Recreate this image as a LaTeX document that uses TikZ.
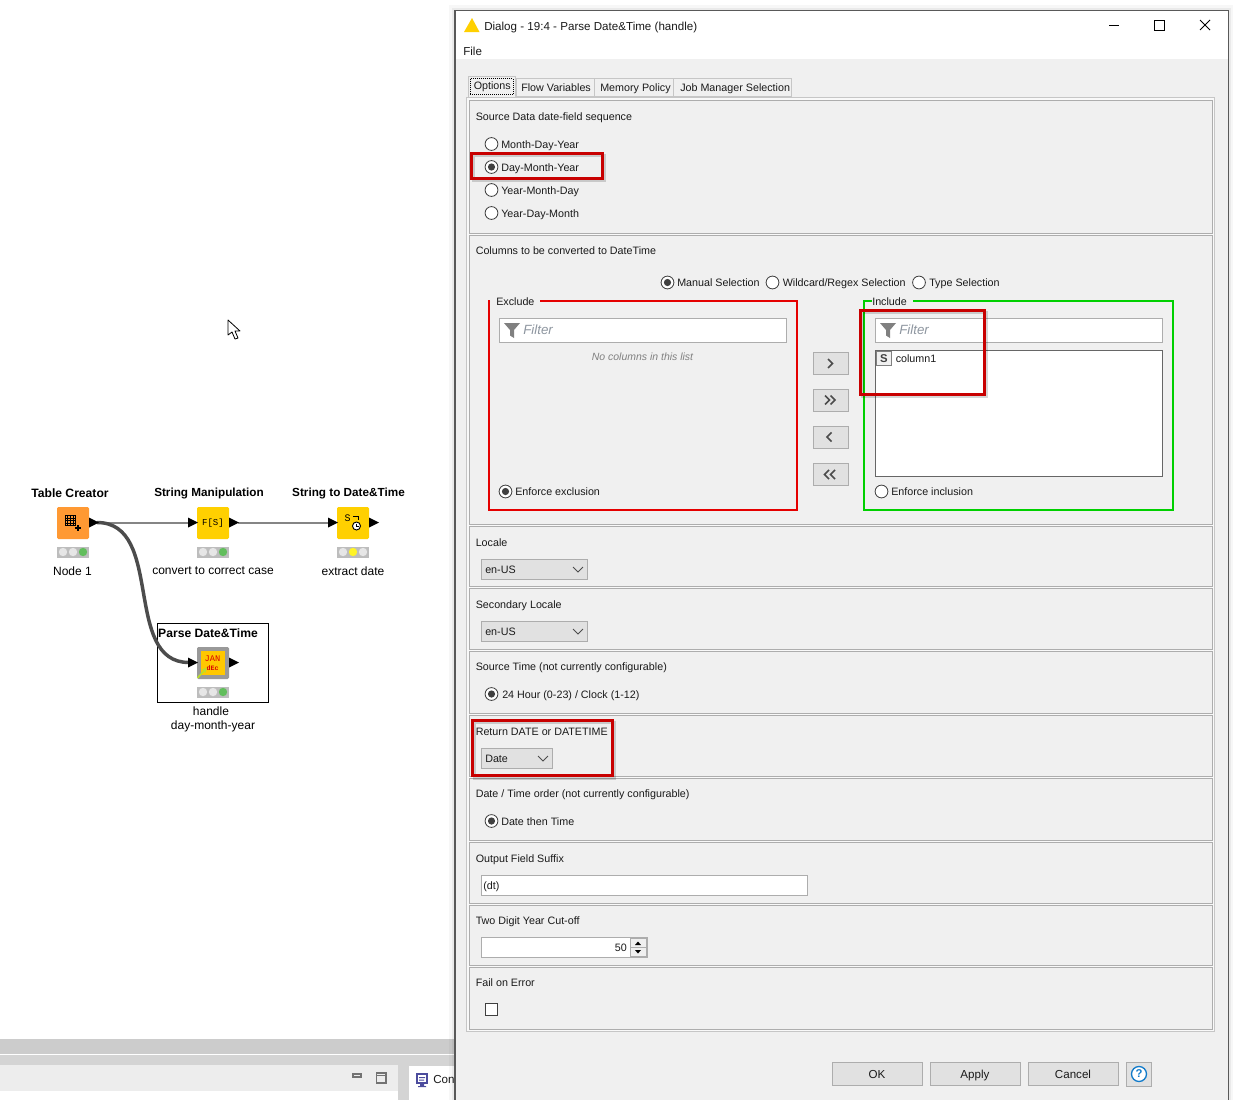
\documentclass[tikz,border=0pt]{standalone}
\usepackage{fontspec}
\setmainfont{Liberation Sans}
\newfontfamily\uifont{Liberation Sans}
\newfontfamily\pixfont{Liberation Mono}
\usetikzlibrary{arrows.meta}
\definecolor{dlgbg}{HTML}{F0F0F0}
\definecolor{panelline}{HTML}{ADADAD}
\definecolor{redmark}{HTML}{C80000}
\definecolor{gridgreen}{HTML}{00D000}
\definecolor{lampgray}{HTML}{BDBDBD}
\definecolor{lampoff}{HTML}{E6E6E6}
\definecolor{lampgreen}{HTML}{62BE5C}
\definecolor{nodeorange}{HTML}{FF9933}
\definecolor{nodeyellow}{HTML}{FFD000}
\definecolor{btnfill}{HTML}{E1E1E1}
\definecolor{txtcol}{HTML}{1A1A1A}
\definecolor{filtergray}{HTML}{8E96A0}
\newcommand\uisize{\fontsize{8.05}{10}\selectfont}
\newcommand\bigsize{\fontsize{8.7}{10}\selectfont}
\tikzset{
  x=0.75pt,y=-0.75pt,
  uitext/.style={font=\uifont\uisize,text=txtcol,inner sep=0pt,anchor=west,text height=8pt,text depth=2pt},
  bigtext/.style={uitext,font=\uifont\bigsize},
  knimetitle/.style={font=\fontsize{8.8}{11}\selectfont\bfseries,inner sep=0pt,text=black},
  knimetitlewide/.style={font=\fontsize{9.1}{11}\selectfont\bfseries,inner sep=0pt,text=black},
  knimelabel/.style={font=\fontsize{9}{11}\selectfont,inner sep=0pt,text=black,align=center},
  knode/.style={minimum width=24pt,minimum height=24pt,inner sep=0pt,rounded corners=1pt},
  lampbar/.style={fill=lampgray,draw=none,minimum width=24pt,minimum height=8.25pt,inner sep=0pt},
  portmark/.style={fill=black,draw=none},
  panelbox/.style={draw=panelline,line width=0.75pt,fill=dlgbg},
  fieldbox/.style={draw=panelline,line width=0.75pt,fill=white},
  btnbox/.style={draw=panelline,line width=0.75pt,fill=btnfill},
  radiomark/.style={draw=black!75,line width=0.6pt,fill=white},
  redmarkbox/.style={draw=redmark,line width=2.25pt},
  shadowbox/.style={draw=black,opacity=0.16,line width=2.6pt},
  chev/.style={draw=black!70,line width=1.1pt},
  wirethin/.style={draw=black!48,line width=1.5pt},
  wirethick/.style={draw=black!70,line width=2.6pt},
  filtertext/.style={font=\uifont\fontsize{10}{12}\selectfont\itshape,text=filtergray,inner sep=0pt,anchor=west},
  bottombtn/.style={btnbox,minimum width=67.5pt,minimum height=17pt,inner sep=0pt,font=\uifont\bigsize,text=txtcol,text height=8pt,text depth=2pt},
}
\newcommand\dlgtext[4]{\node[uitext] (#1) at (#2,#3) {#4};}
\newcommand\dlgpanel[2]{\draw[panelbox] (469,#1) rectangle (1212,#2);}
\newcommand\radiobtn[3]{\draw[radiomark] (#1,#2) circle (6.4); \ifnum#3=1 \fill[black!75] (#1,#2) circle (3.6);\fi}
\begin{document}
\begin{tikzpicture}
\useasboundingbox (0,0) rectangle (1233,1100);
\fill[white] (0,0) rectangle (1233,1100);

%% ---------- workbench strip at the bottom
\fill[black!20] (0,1039) rectangle (455,1054);
\fill[black!17] (0,1055) rectangle (455,1100);
\fill[black!7] (0,1065) rectangle (398,1091);
\fill[white] (0,1091) rectangle (398,1100);
\fill[white] (409,1066) rectangle (455,1100);
\draw[black!55,line width=0.8pt] (353,1074) rectangle (361,1077);
\draw[black!55,line width=0.8pt] (376.5,1073) rectangle (386,1083);
\draw[black!55,line width=0.8pt] (376.5,1075.5) -- (386,1075.5);
\fill[blue!45!black!70!white] (416,1073) rectangle (428,1084);
\fill[white] (418,1075) rectangle (426,1082);
\fill[blue!45!black!70!white] (419,1077) rectangle (425,1078) (419,1079.5) rectangle (424,1080.5) (420,1084) rectangle (424,1086) (418,1086) rectangle (426,1087);
\node[bigtext] (contab) at (433,1079) {Con};

%% ---------- mouse pointer
\draw[black,fill=white,line width=0.6pt,line join=round] (228,320) -- (228,335) -- (232,332) -- (235,339) -- (238,338) -- (235,331) -- (240,331) -- cycle;

%% ---------- workflow
\node[knimetitlewide] (t1) at (70,493) {Table Creator};
\node[knimetitle] (t2) at (209,493) {String Manipulation};
\node[knimetitle] (t3) at (348.5,493) {String to Date\&Time};
\draw[black,line width=0.8pt] (157.5,623.5) rectangle (268.5,702.5);
\node[knimetitlewide] (t4) at (208,633) {Parse Date\&Time};

\coordinate (tcout) at (97,522.5);
\coordinate (smin) at (189,522.5);
\coordinate (smout) at (238,522.5);
\coordinate (sdin) at (329,522.5);
\coordinate (pdin) at (189,662.5);

\draw[wirethin] (tcout) -- (smin);
\draw[wirethin] (smout) -- (sdin);
\draw[wirethick] (tcout) .. controls (165,522.5) and (122,662.5) .. (pdin);

\node[knode,fill=nodeorange] (tc) at (73,523) {};
\node[knode,fill=nodeyellow] (sm) at (213,523) {};
\node[knode,fill=nodeyellow] (sd) at (353,523) {};
\node[knode,fill=black!40] (pd) at (213,663) {};
\fill[nodeyellow!90!orange] (201,651) rectangle (225,675);

% ports
\foreach \x/\y in {89/522.5,229/522.5,369/522.5,229/662.5,188/522.5,328/522.5,188/662.5}
  {\fill[portmark] (\x,{\y-5}) -- ({\x+10},\y) -- (\x,{\y+5}) -- cycle;}

% table creator icon
\draw[black,line width=0.5pt] (65,515.5) rectangle (75.4,525.5);
\foreach \v in {67.6,70.2,72.8} {\draw[black,line width=0.35pt] (\v,515.5) -- (\v,525.5);}
\foreach \v in {518,520.5,523} {\draw[black,line width=0.35pt] (65,\v) -- (75.4,\v);}
\draw[black,line width=1.3pt] (75,528) -- (81,528) (78,525) -- (78,531);
% string manipulation icon
\node[font=\pixfont\fontsize{6.8}{7}\selectfont,inner sep=0pt,text=black] (smicon) at (213,523) {F[S]};
% string to date icon
\node[font=\pixfont\fontsize{7.5}{8}\selectfont,inner sep=0pt,text=black] (sdicon) at (347.5,518) {S};
\draw[black,line width=0.6pt] (353,516) -- (358,516) -- (358,520);
\draw[black,line width=0.7pt,fill=white] (356.5,526) circle (4);
\draw[black,line width=0.5pt] (356.5,523.5) -- (356.5,526) -- (359,526);
% parse date icon
\node[font=\pixfont\fontsize{6.5}{6.5}\selectfont,inner sep=0pt,text=red!85!black] (pdjan) at (212.5,659) {JAN};
\node[font=\pixfont\bfseries\fontsize{5}{5}\selectfont,inner sep=0pt,text=red!85!black] (pddec) at (212.5,668) {dEc};
\draw[yellow!70!green!90!white,line width=1.2pt,-{Stealth[length=4pt,width=4pt]}] (197.5,678) -- (207,667.5);

% traffic lights
\node[lampbar] (l1) at (73,552) {};
\node[lampbar] (l2) at (213,552) {};
\node[lampbar] (l3) at (353,552) {};
\node[lampbar] (l4) at (213,692) {};
\foreach \cx/\cy/\c in {63/552/lampoff,73/552/lampoff,83/552/lampgreen,
 203/552/lampoff,213/552/lampoff,223/552/lampgreen,
 343/552/lampoff,353/552/yellow!85!white,363/552/lampoff,
 203/692/lampoff,213/692/lampoff,223/692/lampgreen}
 {\fill[\c] (\cx,\cy) circle (4.2);}

\node[knimelabel] (n1) at (72.5,571) {Node 1};
\node[knimelabel] (n2) at (213,571) {convert to correct case};
\node[knimelabel] (n3) at (353,571) {extract date};
\node[knimelabel] (n4a) at (211,711) {handle};
\node[knimelabel] (n4b) at (213,726) {day-month-year};

%% ---------- dialog window
\fill[black,opacity=0.03] (449,5) rectangle (1233,1100);
\fill[black,opacity=0.05] (452,8) rectangle (1231,1100);
\fill[white] (455,11) rectangle (1228,59);
\fill[dlgbg] (455,59) rectangle (1228,1100);
\draw[black!65,line width=0.8pt] (455,1100) -- (455,10.5) -- (1228.5,10.5) -- (1228.5,1100);

\fill[nodeyellow] (472,18) -- (479.5,32) -- (464,32) -- cycle;
\node[bigtext] (title) at (484,26) {Dialog - 19:4 - Parse Date\&Time (handle)};
\node[bigtext] (file) at (463,51) {File};
\draw[black,line width=0.7pt] (1109,25) -- (1119,25);
\draw[black,line width=0.7pt] (1154.5,20.5) rectangle (1164,30);
\draw[black,line width=0.7pt] (1200,20) -- (1210,30) (1210,20) -- (1200,30);

%% ---------- tabs
\draw[panelline!70!white,line width=0.7pt,fill=dlgbg] (516,78) rectangle (594.5,96);
\draw[panelline!70!white,line width=0.7pt,fill=dlgbg] (594.5,78) rectangle (673.5,96);
\draw[panelline!70!white,line width=0.7pt,fill=dlgbg] (673.5,78) rectangle (791,96);
\draw[panelline!70!white,line width=0.7pt,fill=white!60!dlgbg] (466.5,97) rectangle (1214.5,1031);
\draw[panelline!70!white,line width=0.7pt,fill=dlgbg] (468,76) -- (468,97) -- (515,97) -- (515,76) -- cycle;
\draw[black,line width=0.5pt,densely dotted] (470,78.5) rectangle (513,94.5);
\dlgtext{tab1}{473.5}{85.5}{Options}
\dlgtext{tab2}{521}{87}{Flow Variables}
\dlgtext{tab3}{600}{87}{Memory Policy}
\dlgtext{tab4}{680}{87}{Job Manager Selection}

%% ---------- panels
\dlgpanel{100}{233}
\dlgpanel{235}{524}
\dlgpanel{526}{586}
\dlgpanel{588}{649}
\dlgpanel{651}{713}
\dlgpanel{715}{776}
\dlgpanel{778}{840}
\dlgpanel{842}{903}
\dlgpanel{905}{965}
\dlgpanel{967}{1029}

\dlgtext{p1}{475.5}{116}{Source Data date-field sequence}
\radiobtn{491.5}{144}{0}
\radiobtn{491.5}{167}{1}
\radiobtn{491.5}{190}{0}
\radiobtn{491.5}{213}{0}
\dlgtext{r1}{501}{144}{Month-Day-Year}
\dlgtext{r2}{501}{167}{Day-Month-Year}
\dlgtext{r3}{501}{190}{Year-Month-Day}
\dlgtext{r4}{501}{213}{Year-Day-Month}

\dlgtext{p2}{475.5}{250}{Columns to be converted to DateTime}
\radiobtn{667.5}{282.5}{1}
\radiobtn{772.5}{282.5}{0}
\radiobtn{919}{282.5}{0}
\dlgtext{m1}{677}{282}{Manual Selection}
\dlgtext{m2}{782.5}{282}{Wildcard/Regex Selection}
\dlgtext{m3}{929}{282}{Type Selection}

% exclude box
\draw[red!90!black,line width=1.5pt] (490,301) -- (488.5,301) -- (488.5,510) -- (797,510) -- (797,301) -- (540,301);
\dlgtext{ex}{496}{301}{Exclude}
\draw[fieldbox] (499.5,318.5) rectangle (786,342);
\fill[black!50] (504,323) -- (520,323) -- (514,330) -- (514,338) -- (510,335.5) -- (510,330) -- cycle;
\node[filtertext] (exf) at (523,330) {Filter};
\node[font=\uifont\fontsize{7.85}{10}\selectfont\itshape,text=black!50,inner sep=0pt] (exn) at (642.5,357) {No columns in this list};
\radiobtn{505.5}{491.5}{1}
\dlgtext{exe}{515}{491}{Enforce exclusion}

% include box
\draw[gridgreen,line width=1.5pt] (872,301) -- (864,301) -- (864,510) -- (1173,510) -- (1173,301) -- (913,301);
\dlgtext{inc}{872}{301}{Include}
\draw[fieldbox] (875.5,318.5) rectangle (1162,342);
\fill[black!50] (880,323) -- (896,323) -- (890,330) -- (890,338) -- (886,335.5) -- (886,330) -- cycle;
\node[filtertext] (inf) at (899,330) {Filter};
\draw[draw=black!60,fill=white,line width=0.75pt] (875.5,350.5) rectangle (1162,476);
\draw[draw=black!50,fill=dlgbg,line width=0.7pt] (876.5,351.5) rectangle (891,365.5);
\node[font=\bfseries\fontsize{8.5}{10}\selectfont,inner sep=0pt,text=black!75] (stype) at (883.8,358.5) {S};
\dlgtext{col}{895.5}{358}{column1}
\radiobtn{881.5}{491.5}{0}
\dlgtext{ine}{891}{491}{Enforce inclusion}

% arrow buttons
\draw[btnbox] (813.5,352.5) rectangle (848,374);
\draw[btnbox] (813.5,389.5) rectangle (848,411);
\draw[btnbox] (813.5,426.5) rectangle (848,448);
\draw[btnbox] (813.5,463.5) rectangle (848,485);
\draw[chev] (828,359) -- (832.5,363.5) -- (828,368);
\draw[chev] (825,395.5) -- (829.5,400) -- (825,404.5) (830.5,395.5) -- (835,400) -- (830.5,404.5);
\draw[chev] (831.5,432.5) -- (827,437) -- (831.5,441.5);
\draw[chev] (829,470) -- (824.5,474.5) -- (829,479) (835,470) -- (830.5,474.5) -- (835,479);

% locale panels
\dlgtext{p3}{475.5}{542}{Locale}
\draw[btnbox] (481.5,559.5) rectangle (587,579);
\dlgtext{d1}{485}{569}{en-US}
\draw[black!70,line width=0.6pt] (573,567) -- (578,572) -- (583,567);
\dlgtext{p4}{475.5}{604}{Secondary Locale}
\draw[btnbox] (481.5,621.5) rectangle (587,641);
\dlgtext{d2}{485}{631}{en-US}
\draw[black!70,line width=0.6pt] (573,629) -- (578,634) -- (583,629);
\dlgtext{p5}{475.5}{666}{Source Time (not currently configurable)}
\radiobtn{491.5}{694}{1}
\dlgtext{h1}{502}{694}{24 Hour (0-23) / Clock (1-12)}
\dlgtext{p6}{475.5}{731}{Return DATE or DATETIME}
\draw[btnbox] (481.5,748.5) rectangle (552,768);
\dlgtext{d3}{485}{758}{Date}
\draw[black!70,line width=0.6pt] (538,756) -- (543,761) -- (548,756);
\dlgtext{p7}{475.5}{793}{Date / Time order (not currently configurable)}
\radiobtn{491.5}{821}{1}
\dlgtext{h2}{501}{821}{Date then Time}
\dlgtext{p8}{475.5}{858}{Output Field Suffix}
\draw[fieldbox] (481.5,875.5) rectangle (807,895);
\dlgtext{dt}{483}{885}{(dt)}
\dlgtext{p9}{475.5}{920}{Two Digit Year Cut-off}
\draw[fieldbox] (481.5,937.5) rectangle (647,957);
\node[uitext,anchor=east] (fifty) at (627,947) {50};
\draw[panelline,fill=dlgbg,line width=0.6pt] (630,938) rectangle (646,947);
\draw[panelline,fill=dlgbg,line width=0.6pt] (630,947) rectangle (646,956.5);
\fill[black] (635,945) -- (641,945) -- (638,941.5) -- cycle;
\fill[black] (635,950) -- (641,950) -- (638,953.5) -- cycle;
\dlgtext{p10}{475.5}{982}{Fail on Error}
\draw[draw=black!75,fill=white,line width=0.7pt] (485.5,1003.5) rectangle (497.5,1015.5);

% bottom buttons
\node[bottombtn] (ok) at (877,1074) {OK};
\node[bottombtn] (apply) at (975,1074) {Apply};
\node[bottombtn] (cancel) at (1073,1074) {Cancel};
\node[btnbox,minimum width=19pt,minimum height=18pt,inner sep=0pt] (help) at (1139,1074) {};
\draw[cyan!60!blue,line width=1pt,fill=white] (help.center) circle (7.5);
\node[font=\bfseries\fontsize{8.5}{10}\selectfont,inner sep=0pt,text=cyan!60!blue] (helpq) at (help.center) {?};

%% ---------- red highlight boxes
\draw[shadowbox] (473.5,155.5) rectangle (604.5,180.5);
\draw[shadowbox] (862.5,312.5) rectangle (986.5,396.5);
\draw[shadowbox] (474.5,722.5) rectangle (614.5,778);
\draw[redmarkbox] (471.5,153.5) rectangle (602,178);
\draw[redmarkbox] (860.5,310.5) rectangle (984,394);
\draw[redmarkbox] (472.5,720.5) rectangle (612,775.5);
\end{tikzpicture}
\end{document}
